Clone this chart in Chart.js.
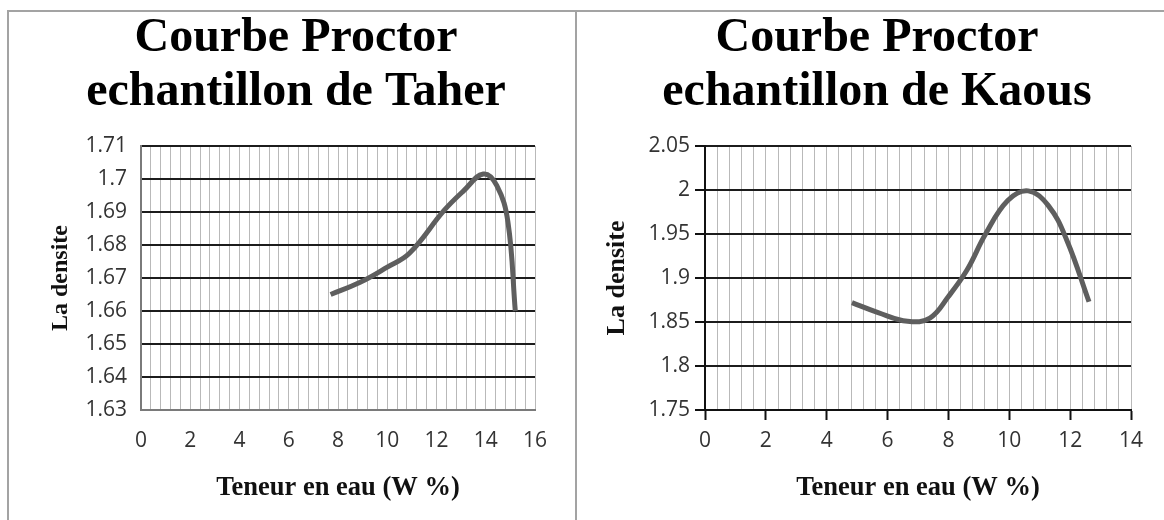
<!DOCTYPE html>
<html>
<head>
<meta charset="utf-8">
<script src="https://cdn.jsdelivr.net/npm/chart.js@4/dist/chart.umd.min.js"></script>
<style>
  body { margin: 0; background: #fff; width: 1164px; height: 520px; overflow: hidden; }
  .panel { position: absolute; top: 10px; height: 510px; border-top: 2px solid #a3a3a3; border-left: 2px solid #a3a3a3; }
  #panel-taher { left: 7px; width: 566px; }
  #panel-kaous { left: 575px; width: 589px; }
  canvas { display: block; }
</style>
</head>
<body>
<div class="panel" id="panel-taher"><canvas id="chart-taher"></canvas></div>
<div class="panel" id="panel-kaous"><canvas id="chart-kaous"></canvas></div>
<script>
// Taher sample: water content (W %) and density
const taherW = [7.7, 8.9, 10.0, 10.9, 12.3, 13.1, 13.9, 14.45, 14.9, 15.2];
const taherDensity = [1.665, 1.6687, 1.6733, 1.6775, 1.6904, 1.6964, 1.7015, 1.698, 1.687, 1.66];
const taherXLabels = [0, 2, 4, 6, 8, 10, 12, 14, 16];
const taherYLabels = [1.63, 1.64, 1.65, 1.66, 1.67, 1.68, 1.69, 1.7, 1.71];

// Kaous sample
const kaousW = [4.83, 5.69, 6.66, 7.39, 8.0, 8.61, 9.22, 9.95, 10.62, 11.29, 11.89, 12.62];
const kaousDensity = [1.872, 1.8607, 1.8508, 1.8545, 1.879, 1.909, 1.95, 1.988, 1.999, 1.982, 1.943, 1.873];
const kaousXLabels = [0, 2, 4, 6, 8, 10, 12, 14];
const kaousYLabels = [1.75, 1.8, 1.85, 1.9, 1.95, 2, 2.05];

const titleText = 'Courbe Proctor';
const xTitle = 'Teneur en eau (W %)';
const yTitle = 'La densite';
const minorStep = 0.4;

function isMajor(value, labels) {
  return labels.some(l => Math.abs(l - value) < 1e-6);
}

function createProctorChart(id, cfg) {
  const canvas = document.getElementById(id);
  canvas.width = cfg.width;
  canvas.height = 508;
  canvas.style.width = cfg.width + 'px';
  canvas.style.height = '508px';
  const ctx = canvas.getContext('2d');

  const points = cfg.w.map((w, i) => ({ x: w, y: cfg.d[i] }));

  return new Chart(ctx, {
    type: 'line',
    data: {
      datasets: [{
        data: points,
        borderColor: '#5e5e5e',
        borderWidth: 5,
        pointRadius: 0,
        tension: 0.4,
        fill: false
      }]
    },
    options: {
      responsive: false,
      animation: false,
      // left padding only moves the title centre, the y axis width is fixed below
      layout: { padding: { left: cfg.leftPad, right: cfg.rightPad, top: 0, bottom: 0 } },
      plugins: {
        legend: { display: false },
        tooltip: { enabled: false },
        title: {
          display: true,
          text: [titleText, cfg.subtitle],
          color: '#000',
          font: { family: '"Liberation Serif", "Times New Roman", serif', size: 48, weight: 'bold', lineHeight: 1.125 },
          padding: { top: 0, bottom: 26 }
        }
      },
      scales: {
        x: {
          type: 'linear',
          min: cfg.xLabels[0],
          max: cfg.xLabels[cfg.xLabels.length - 1],
          afterFit: s => { s.height = 110; },
          border: { display: true, color: cfg.axisColor, width: 2 },
          grid: {
            color: '#b9b9b9',
            lineWidth: 1,
            tickLength: 10,
            tickWidth: 2,
            tickColor: c => (cfg.xTicks && isMajor(c.tick.value, cfg.xLabels)) ? '#111' : 'rgba(0,0,0,0)'
          },
          ticks: {
            stepSize: minorStep,
            autoSkip: false,
            maxRotation: 0,
            minRotation: 0,
            padding: 8,
            color: '#333',
            font: { family: '"Open Sans", sans-serif', size: 21 },
            callback: v => isMajor(v, cfg.xLabels) ? String(Math.round(v)) : ''
          },
          title: {
            display: true,
            text: xTitle,
            color: '#111',
            font: { family: '"Liberation Serif", "Times New Roman", serif', size: 26.5, weight: 'bold' },
            padding: { top: 0, bottom: 16 }
          }
        },
        y: {
          min: cfg.yLabels[0],
          max: cfg.yLabels[cfg.yLabels.length - 1],
          afterFit: s => { s.width = cfg.yWidth; },
          border: { display: true, color: cfg.axisColor, width: 2 },
          grid: {
            color: '#1c1c1c',
            lineWidth: 2,
            drawTicks: cfg.yTicks,
            tickLength: cfg.yTicks ? 10 : 0,
            tickColor: '#111'
          },
          ticks: {
            stepSize: cfg.yLabels[1] - cfg.yLabels[0],
            padding: cfg.yTicks ? 5 : 14,
            color: '#333',
            font: { family: '"Open Sans", sans-serif', size: 21 },
            callback: v => String(+v.toFixed(2))
          },
          title: {
            display: true,
            text: yTitle,
            color: '#111',
            font: { family: '"Liberation Serif", "Times New Roman", serif', size: cfg.yTitleSize, weight: 'bold' },
            padding: { top: cfg.yTitlePad, bottom: 0 }
          }
        }
      }
    }
  });
}

window.chartTaher = createProctorChart('chart-taher', {
  width: 566, leftPad: 48, rightPad: 40, yWidth: 84,
  w: taherW, d: taherDensity, xLabels: taherXLabels, yLabels: taherYLabels,
  subtitle: 'echantillon de Taher', axisColor: '#7a7a7a',
  xTicks: false, yTicks: false, yTitleSize: 24, yTitlePad: -11
});

window.chartKaous = createProctorChart('chart-kaous', {
  width: 587, leftPad: 46, rightPad: 33, yWidth: 82,
  w: kaousW, d: kaousDensity, xLabels: kaousXLabels, yLabels: kaousYLabels,
  subtitle: 'echantillon de Kaous', axisColor: '#111',
  xTicks: true, yTicks: true, yTitleSize: 26, yTitlePad: -21
});
</script>
</body>
</html>
